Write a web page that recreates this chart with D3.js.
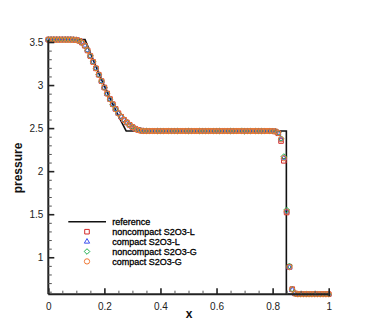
<!DOCTYPE html>
<html><head><meta charset="utf-8">
<script src="https://cdn.jsdelivr.net/npm/d3@7"></script>
<style>body{margin:0;background:#fff}svg{display:block}text{font-family:"Liberation Sans",Arial,sans-serif}</style>
</head><body><svg id="c" width="374" height="332"></svg>
<script>
// ---- data ----
const xs = [0,0.01,0.02,0.03,0.04,0.05,0.06,0.07,0.08,0.09,0.1,0.11,0.12,0.13,0.14,0.15,0.16,0.17,0.18,0.19,0.2,0.21,0.22,0.23,0.24,0.25,0.26,0.27,0.28,0.29,0.3,0.31,0.32,0.33,0.34,0.35,0.36,0.37,0.38,0.39,0.4,0.41,0.42,0.43,0.44,0.45,0.46,0.47,0.48,0.49,0.5,0.51,0.52,0.53,0.54,0.55,0.56,0.57,0.58,0.59,0.6,0.61,0.62,0.63,0.64,0.65,0.66,0.67,0.68,0.69,0.7,0.71,0.72,0.73,0.74,0.75,0.76,0.77,0.78,0.79,0.8,0.81,0.82,0.83,0.84,0.85,0.86,0.87,0.88,0.89,0.9,0.91,0.92,0.93,0.94,0.95,0.96,0.97,0.98,0.99,1];
const pNoncompactL = [3.528,3.528,3.528,3.528,3.528,3.528,3.528,3.528,3.528,3.527,3.524,3.514,3.493,3.457,3.402,3.337,3.268,3.194,3.12,3.046,2.972,2.902,2.838,2.778,2.723,2.673,2.632,2.597,2.566,2.538,2.513,2.493,2.479,2.471,2.467,2.466,2.466,2.466,2.466,2.466,2.466,2.466,2.466,2.466,2.466,2.466,2.466,2.466,2.466,2.466,2.466,2.466,2.466,2.466,2.466,2.466,2.466,2.466,2.466,2.466,2.466,2.466,2.466,2.466,2.466,2.466,2.466,2.466,2.466,2.466,2.466,2.466,2.466,2.466,2.466,2.466,2.466,2.466,2.466,2.465,2.464,2.46,2.44,2.35,2.12,1.52,0.89,0.63,0.58,0.571,0.571,0.571,0.571,0.571,0.571,0.571,0.571,0.571,0.571,0.571,0.571];
const pCompactL = [3.528,3.528,3.528,3.528,3.528,3.528,3.528,3.528,3.528,3.527,3.524,3.515,3.495,3.46,3.405,3.34,3.27,3.195,3.12,3.045,2.97,2.9,2.835,2.775,2.72,2.67,2.63,2.595,2.565,2.537,2.512,2.492,2.478,2.47,2.467,2.466,2.466,2.466,2.466,2.466,2.466,2.466,2.466,2.466,2.466,2.466,2.466,2.466,2.466,2.466,2.466,2.466,2.466,2.466,2.466,2.466,2.466,2.466,2.466,2.466,2.466,2.466,2.466,2.466,2.466,2.466,2.466,2.466,2.466,2.466,2.466,2.466,2.466,2.466,2.466,2.466,2.466,2.466,2.466,2.466,2.465,2.462,2.445,2.37,2.15,1.53,0.88,0.62,0.578,0.571,0.571,0.571,0.571,0.571,0.571,0.571,0.571,0.571,0.571,0.571,0.571];
const pNoncompactG = [3.528,3.528,3.528,3.528,3.528,3.528,3.528,3.528,3.528,3.527,3.523,3.513,3.492,3.456,3.403,3.339,3.27,3.196,3.121,3.046,2.971,2.901,2.836,2.776,2.721,2.671,2.631,2.596,2.566,2.538,2.513,2.493,2.479,2.471,2.468,2.467,2.466,2.466,2.466,2.466,2.466,2.466,2.466,2.466,2.466,2.466,2.466,2.466,2.466,2.466,2.466,2.466,2.466,2.466,2.466,2.466,2.466,2.466,2.466,2.466,2.466,2.466,2.466,2.466,2.466,2.466,2.466,2.466,2.466,2.47,2.462,2.468,2.466,2.466,2.466,2.466,2.466,2.466,2.466,2.466,2.465,2.462,2.447,2.38,2.17,1.55,0.9,0.63,0.579,0.571,0.571,0.571,0.571,0.571,0.571,0.571,0.571,0.571,0.571,0.571,0.571];
const pCompactG = [3.528,3.528,3.528,3.528,3.528,3.528,3.528,3.528,3.528,3.527,3.524,3.515,3.494,3.459,3.404,3.339,3.269,3.195,3.12,3.045,2.97,2.9,2.835,2.775,2.72,2.67,2.63,2.595,2.565,2.537,2.512,2.492,2.478,2.47,2.467,2.466,2.466,2.466,2.466,2.466,2.466,2.466,2.466,2.466,2.466,2.466,2.466,2.466,2.466,2.466,2.466,2.466,2.466,2.466,2.466,2.466,2.466,2.466,2.466,2.466,2.466,2.466,2.466,2.466,2.466,2.466,2.466,2.466,2.466,2.466,2.466,2.466,2.466,2.466,2.466,2.466,2.466,2.466,2.466,2.466,2.465,2.462,2.445,2.37,2.15,1.53,0.885,0.625,0.578,0.571,0.571,0.571,0.571,0.571,0.571,0.571,0.571,0.571,0.571,0.571,0.571];
const refX = [0,0.131,0.1405,0.151,0.1615,0.172,0.1825,0.193,0.2035,0.214,0.2245,0.235,0.2455,0.256,0.2665,0.277,0.278,0.849,0.849,1];
const refP = [3.528,3.528,3.452,3.366,3.282,3.2,3.12,3.041,2.965,2.889,2.816,2.744,2.674,2.605,2.538,2.472,2.466,2.466,0.571,0.571];
const seriesNames = ["noncompact S2O3-L","compact S2O3-L","noncompact S2O3-G","compact S2O3-G"];
const seriesValues = [pNoncompactL,pCompactL,pNoncompactG,pCompactG];
const seriesColors = ["#d42a2a","#3a4ff0","#20b050","#f07a38"];
const seriesShapes = ["square","triangle","diamond","circle"];
const xTicks = [0,0.2,0.4,0.6,0.8,1];
const xMinor = [0.05,0.1,0.15,0.25,0.3,0.35,0.45,0.5,0.55,0.65,0.7,0.75,0.85,0.9,0.95];
const yTicks = [1,1.5,2,2.5,3,3.5];
const yMinor = [0.6,0.7,0.8,0.9,1.1,1.2,1.3,1.4,1.6,1.7,1.8,1.9,2.1,2.2,2.3,2.4,2.6,2.7,2.8,2.9,3.1,3.2,3.3,3.4];

// ---- chart ----
const svg = d3.select("#c");
const x = d3.scaleLinear().domain([0,1]).range([48.3,328.7]);
const y = d3.scaleLinear().domain([0.571,3.528]).range([294.2,39.6]);

const symType = {square:d3.symbolSquare, triangle:d3.symbolTriangle2, diamond:d3.symbolDiamond2, circle:d3.symbolCircle};
const symSize = {square:21, triangle:20, diamond:20, circle:22};

// reference line
svg.append("path")
  .datum(refX.map((v,i)=>[v,refP[i]]))
  .attr("fill","none").attr("stroke","#111").attr("stroke-width",1.6)
  .attr("d", d3.line().x(d=>x(d[0])).y(d=>y(d[1])));

// markers
seriesValues.forEach((vals,si)=>{
  svg.append("g").selectAll("path").data(xs.map((v,i)=>[v,vals[i]])).join("path")
    .attr("transform", d=>`translate(${x(d[0])},${y(d[1])})`)
    .attr("d", d3.symbol().type(symType[seriesShapes[si]]).size(symSize[seriesShapes[si]]))
    .attr("fill","none").attr("stroke",seriesColors[si]).attr("stroke-width",1);
});

// axes
const gx = svg.append("g").attr("transform",`translate(0,${y.range()[0]})`)
  .call(d3.axisBottom(x).tickValues(xTicks).tickSizeInner(-6).tickSizeOuter(0).tickPadding(9).tickFormat(d3.format("")));
const gxm = svg.append("g").attr("transform",`translate(0,${y.range()[0]})`)
  .call(d3.axisBottom(x).tickValues(xMinor).tickSizeInner(-3.5).tickSizeOuter(0).tickFormat(""));
const gy = svg.append("g").attr("transform",`translate(${x.range()[0]},0)`)
  .call(d3.axisLeft(y).tickValues(yTicks).tickSizeInner(-6).tickSizeOuter(0).tickPadding(5).tickFormat(d3.format("")));
const gym = svg.append("g").attr("transform",`translate(${x.range()[0]},0)`)
  .call(d3.axisLeft(y).tickValues(yMinor).tickSizeInner(-3.5).tickSizeOuter(0).tickFormat(""));
[gxm,gym].forEach(g=>{g.select(".domain").remove(); g.selectAll("line").attr("stroke","#555").attr("stroke-width",1);});
[gx,gy].forEach(g=>{
  g.select(".domain").attr("stroke","#222").attr("stroke-width",2);
  g.selectAll(".tick line").attr("stroke","#222").attr("stroke-width",1.6);
  g.selectAll("text").attr("font-size",10).attr("fill","#222").attr("font-family","Liberation Sans, Arial, sans-serif");
});
gx.select(".domain").attr("d",`M${x.range()[0]},0H${x.range()[1]}`);
gy.select(".domain").attr("d",`M0,${y.range()[0]}V${y.range()[1]}`);
gx.selectAll(".tick line").attr("y2",-6).attr("y1",0);
gx.selectAll(".tick").filter(d=>d===1).select("line").attr("y1",2);

// axis labels
svg.append("text").attr("x",189).attr("y",318).attr("text-anchor","middle")
  .attr("font-size",12).attr("font-weight","bold").attr("fill","#111").text("x");
svg.append("text").attr("transform","translate(22,168) rotate(-90)").attr("text-anchor","middle")
  .attr("font-size",12).attr("font-weight","bold").attr("fill","#111").text("pressure");

// legend
const lg = svg.append("g");
lg.append("line").attr("x1",68.3).attr("x2",106).attr("y1",221.7).attr("y2",221.7).attr("stroke","#111").attr("stroke-width",1.6);
lg.append("text").attr("x",112.3).attr("y",225).attr("font-size",9).attr("fill","#000").attr("stroke","#000").attr("stroke-width",0.3).text("reference");
seriesNames.forEach((n,i)=>{
  const yy = 231.7 + i*9.9;
  lg.append("path").attr("transform",`translate(87,${yy})`)
    .attr("d", d3.symbol().type(symType[seriesShapes[i]]).size(symSize[seriesShapes[i]]))
    .attr("fill","none").attr("stroke",seriesColors[i]).attr("stroke-width",1);
  lg.append("text").attr("x",112.3).attr("y",yy+3.3).attr("font-size",9).attr("fill","#000").attr("stroke","#000").attr("stroke-width",0.3).text(n);
});
</script></body></html>
